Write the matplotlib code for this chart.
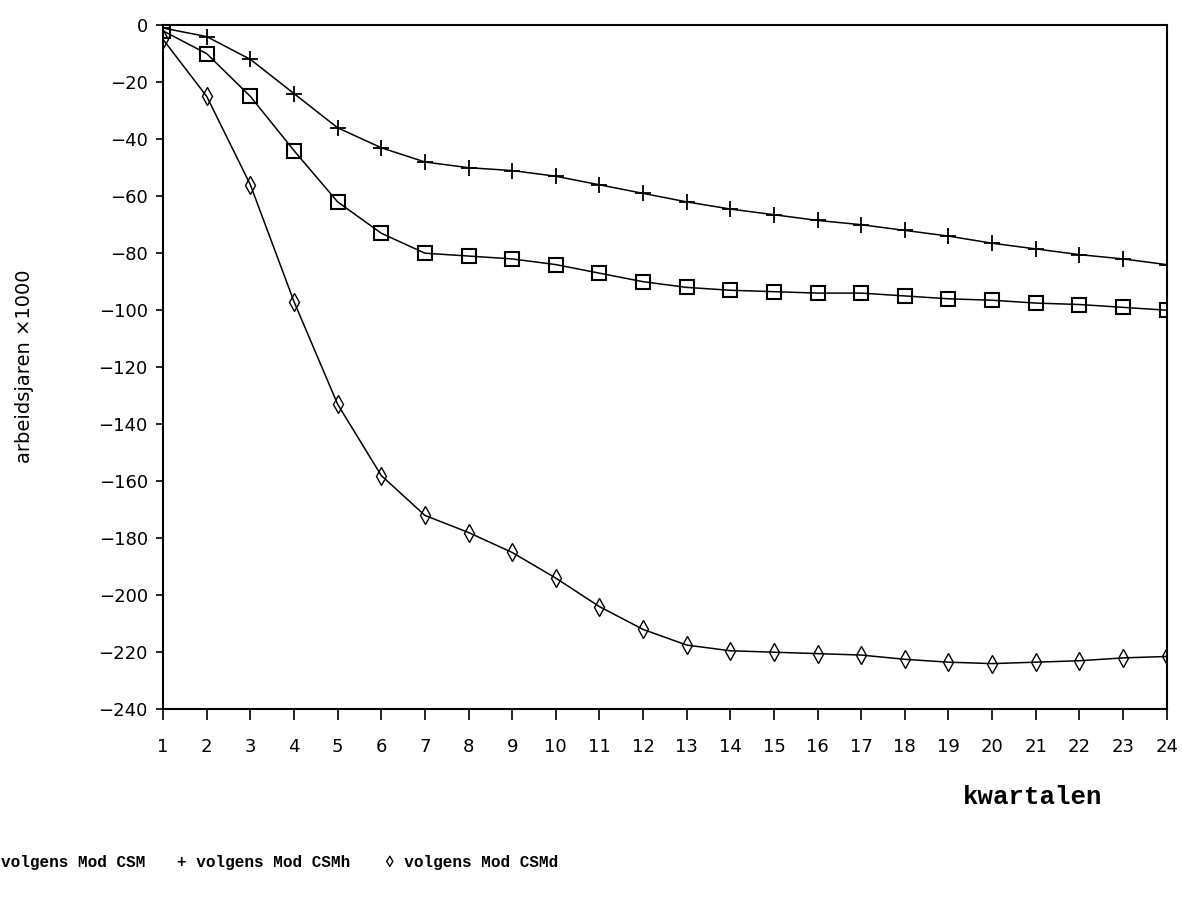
import matplotlib
matplotlib.use("Agg")
import matplotlib.pyplot as plt

kwartalen = list(range(1, 25))
csm = [-2, -10, -25, -44, -62, -73, -80, -81, -82, -84, -87, -90,
       -92, -93, -93.5, -94, -94, -95, -96, -96.5, -97.5, -98, -99, -100]
csmh = [-1, -4, -12, -24, -36, -43, -48, -50, -51, -53, -56, -59,
        -62, -64.5, -66.5, -68.5, -70, -72, -74, -76.5, -78.5, -80.5, -82, -84]
csmd = [-5, -25, -56, -97, -133, -158, -172, -178, -185, -194, -204, -212,
        -217.5, -219.5, -220, -220.5, -221, -222.5, -223.5, -224, -223.5, -223, -222, -221.5]
yticks = list(range(0, -260, -20))

fig = plt.figure(figsize=(11.82, 9), dpi=100)
ax = fig.add_axes([0.138, 0.212, 0.849, 0.76])

ax.plot(kwartalen, csmh, color='black', lw=1.1, marker='+', ms=11, mew=1.3)
ax.plot(kwartalen, csm, color='black', lw=1.1, marker='s', ms=10, mfc='none', mew=1.5)
ax.plot(kwartalen, csmd, color='black', lw=1.1, marker='d', ms=9, mfc='none', mew=1)

ax.set_xlim(1, 24)
ax.set_ylim(-240, 0)
ax.set_xticks(kwartalen)
ax.set_yticks(yticks)
ax.set_yticklabels([str(v).replace('-', '\u2212') for v in yticks])
ax.tick_params(axis='both', direction='out', labelsize=13, width=1.2, length=8)
ax.tick_params(axis='x', pad=13)
ax.tick_params(axis='y', length=5, pad=6)
for s in ax.spines.values():
    s.set_linewidth(1.5)

fig.text(0.021, 0.593, 'arbeidsjaren \u00d71000', rotation=90, ha='center', va='center', fontsize=14)
mono = dict(family='Liberation Mono', weight='bold')
fig.text(0.815, 0.114, 'kwartalen', ha='left', va='center', fontsize=18.5, **mono)
fig.text(0.001, 0.042, 'volgens Mod CSM', ha='left', va='center', fontsize=11.5, **mono)
fig.text(0.150, 0.042, '+ volgens Mod CSMh', ha='left', va='center', fontsize=11.5, **mono)
fig.text(0.326, 0.042, '\u25ca volgens Mod CSMd', ha='left', va='center', fontsize=11.5, **mono)

fig.savefig('out.png', dpi=100)
